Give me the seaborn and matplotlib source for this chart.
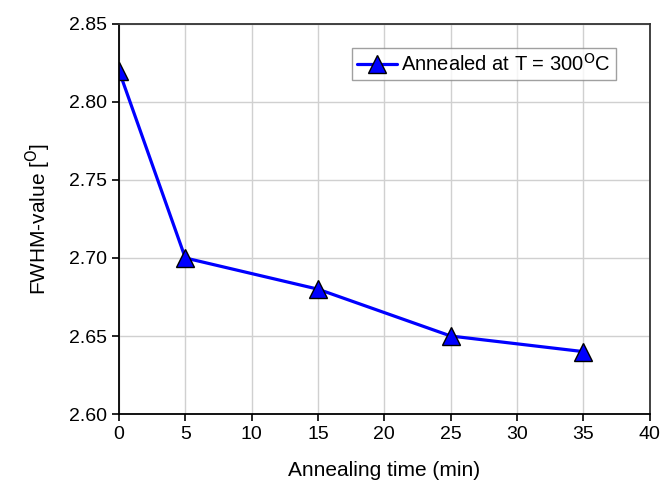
import matplotlib
matplotlib.use("Agg")
import matplotlib.pyplot as plt
import seaborn as sns
import pandas as pd

# data
anneal_time = [0, 5, 15, 25, 35]
fwhm = [2.82, 2.70, 2.68, 2.65, 2.64]
x_ticks = [0, 5, 10, 15, 20, 25, 30, 35, 40]
y_ticks = [2.60, 2.65, 2.70, 2.75, 2.80, 2.85]

df = pd.DataFrame({"time": anneal_time, "fwhm": fwhm})

sns.set_style("white")
plt.rcParams["font.family"] = ["Liberation Sans", "DejaVu Sans"]
plt.rcParams["text.color"] = "black"
plt.rcParams["axes.labelcolor"] = "black"
plt.rcParams["xtick.color"] = "black"
plt.rcParams["ytick.color"] = "black"

fig = plt.figure(figsize=(6.61, 4.86), dpi=100)
ax = fig.add_axes([0.18, 0.148, 0.803, 0.803])

sns.lineplot(data=df, x="time", y="fwhm", ax=ax, color="#0000ff", linewidth=2.3,
             marker="^", markersize=13, markerfacecolor="#0000ff",
             markeredgecolor="black", markeredgewidth=1.0,
             label="Annealed at T = 300$^{\\mathrm{O}}$C")

ax.set_xlim(0, 40)
ax.set_ylim(2.60, 2.85)
ax.set_xticks(x_ticks)
ax.set_yticks(y_ticks)
ax.set_yticklabels(["%.2f" % v for v in y_ticks])
ax.grid(True, color="#d0d0d0", linewidth=1.0)
ax.set_axisbelow(True)

for s in ["left", "bottom"]:
    ax.spines[s].set_color("black")
    ax.spines[s].set_linewidth(1.3)
for s in ["top", "right"]:
    ax.spines[s].set_color("#333333")
    ax.spines[s].set_linewidth(1.3)

ax.tick_params(axis="both", direction="out", length=5, width=1.2,
               labelsize=14, left=True, bottom=True, color="black")
ax.set_xlabel("Annealing time (min)", fontsize=15, labelpad=13)
ax.set_ylabel("FWHM-value [$^{\\mathrm{O}}$]", fontsize=15, labelpad=12)

leg = ax.legend(loc="upper right", bbox_to_anchor=(0.936, 0.938), borderaxespad=0,
                fontsize=14.5, frameon=True, fancybox=False, borderpad=0.25,
                handlelength=2.0, handletextpad=0.2)
leg.get_frame().set_edgecolor("#888888")
leg.get_frame().set_linewidth(1.0)

fig.savefig("out.png", dpi=100)
